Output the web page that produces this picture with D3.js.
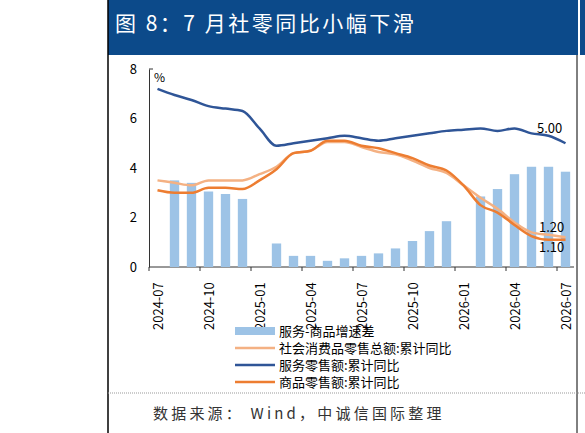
<!DOCTYPE html><html><head><meta charset="utf-8">
<script src="https://cdn.jsdelivr.net/npm/d3@7"></script>
<style>body{margin:0;background:#fff}text{font-family:"Noto Sans CJK SC","Noto Sans",sans-serif}</style></head><body>
<svg id="c" width="585" height="433"></svg>
<script>
const months=["2024-07","2024-08","2024-09","2024-10","2024-11","2024-12","2025-01","2025-02","2025-03","2025-04","2025-05","2025-06","2025-07","2025-08","2025-09","2025-10","2025-11","2025-12","2026-01","2026-02","2026-03","2026-04","2026-05","2026-06","2026-07"];
const tickLabels=["2024-07","2024-10","2025-01","2025-04","2025-07","2025-10","2026-01","2026-04","2026-07"];
const gap=[null,3.5,3.4,3.05,2.95,2.75,null,0.95,0.45,0.45,0.25,0.35,0.45,0.55,0.75,1.05,1.45,1.85,null,2.85,3.15,3.75,4.05,4.05,3.85];
const total=[3.5,3.4,3.3,3.5,3.5,3.5,3.75,4.05,4.6,4.7,5.05,5.05,4.85,4.65,4.55,4.3,4.0,3.8,3.3,2.8,2.35,1.8,1.4,1.3,1.2];
const services=[7.2,6.95,6.75,6.5,6.4,6.3,5.6,4.9,5.0,5.1,5.2,5.3,5.2,5.1,5.2,5.3,5.4,5.5,5.55,5.6,5.5,5.6,5.4,5.3,5.0];
const goods=[3.1,3.0,3.0,3.2,3.2,3.15,3.5,3.95,4.6,4.7,5.1,5.1,4.9,4.8,4.6,4.4,4.1,3.9,3.3,2.5,2.2,1.7,1.25,1.1,1.1];
const yTicks=[0,2,4,6,8];
const svg=d3.select("#c");
svg.append("rect").attr("x",108).attr("y",0).attr("width",470).attr("height",55).attr("fill","#0c4a8a");
svg.append("rect").attr("x",580).attr("y",0).attr("width",5).attr("height",55).attr("fill","#0c4a8a");
svg.append("text").attr("x",115).attr("y",31).attr("fill","#fff").attr("font-size",21).attr("letter-spacing",2.5).text("图 8：7 月社零同比小幅下滑");
svg.append("line").attr("x1",108).attr("x2",108).attr("y1",0).attr("y2",433).attr("stroke","#000").attr("stroke-width",1.5);
svg.append("line").attr("x1",577).attr("x2",577).attr("y1",55).attr("y2",433).attr("stroke","#000").attr("stroke-width",1);
svg.append("line").attr("x1",108).attr("x2",585).attr("y1",393).attr("y2",393).attr("stroke","#999").attr("stroke-dasharray","1,1");
svg.append("text").attr("x",153).attr("y",419).attr("font-size",15).attr("letter-spacing",3.2).attr("fill","#333").text("数据来源： Wind，中诚信国际整理");
const x=d3.scaleBand().domain(months).range([149,574]).paddingInner(0.45).paddingOuter(0.225);
const xs=d3.scaleBand().domain(months).range([149,574]);
const y=d3.scaleLinear().domain([0,8]).range([267,69]);
const ya=svg.append("g").attr("transform","translate(149,0)").call(d3.axisLeft(y).tickValues(yTicks).tickSize(0).tickPadding(12));
ya.select(".domain").attr("stroke","#333");
ya.selectAll("text").attr("font-size",13).attr("fill","#000");
ya.append("line").attr("x1",0).attr("x2",4).attr("y1",y(8)).attr("y2",y(8)).attr("stroke","#333");
svg.append("text").attr("x",154).attr("y",82).attr("font-size",12).text("%");
svg.append("line").attr("x1",149).attr("x2",574).attr("y1",267).attr("y2",267).attr("stroke","#333");
svg.selectAll(".tk").data(months.filter((m,i)=>i%3===0).concat(["end"])).join("line")
 .attr("x1",(d,i)=>149+i*3*xs.bandwidth()).attr("x2",(d,i)=>149+i*3*xs.bandwidth()).attr("y1",267).attr("y2",271).attr("stroke","#333");
svg.selectAll(".xl").data(tickLabels).join("text").attr("font-size",13)
 .attr("transform",d=>`translate(${xs(d)+xs.bandwidth()/2+5},330) rotate(-90)`).text(d=>d);
svg.selectAll(".bar").data(months.map((m,i)=>({m,v:gap[i]})).filter(d=>d.v!=null)).join("rect")
 .attr("x",d=>x(d.m)).attr("width",x.bandwidth()).attr("y",d=>y(d.v)).attr("height",d=>y(0)-y(d.v)).attr("fill","#9dc3e6");
const line=arr=>d3.line().curve(d3.curveMonotoneX).x((d,i)=>xs(months[i])+xs.bandwidth()/2).y(d=>y(d))(arr);
svg.append("path").attr("d",line(total)).attr("fill","none").attr("stroke","#f4b183").attr("stroke-width",2.5);
svg.append("path").attr("d",line(goods)).attr("fill","none").attr("stroke","#ed7d31").attr("stroke-width",2.5);
svg.append("path").attr("d",line(services)).attr("fill","none").attr("stroke","#2f5597").attr("stroke-width",2.5);
svg.append("text").attr("x",537).attr("y",133).attr("font-size",13).text("5.00");
svg.append("text").attr("x",539).attr("y",232).attr("font-size",13).text("1.20");
svg.append("text").attr("x",539).attr("y",252).attr("font-size",13).text("1.10");
const leg=[["服务-商品增速差","#9dc3e6",8],["社会消费品零售总额:累计同比","#f4b183",2.5],["服务零售额:累计同比","#2f5597",2.5],["商品零售额:累计同比","#ed7d31",2.5]];
leg.forEach((l,i)=>{const yy=331+i*17;
 svg.append("line").attr("x1",235).attr("x2",275).attr("y1",yy).attr("y2",yy).attr("stroke",l[1]).attr("stroke-width",l[2]);
 svg.append("text").attr("x",279).attr("y",yy+5).attr("font-size",13).text(l[0]);});
</script></body></html>
